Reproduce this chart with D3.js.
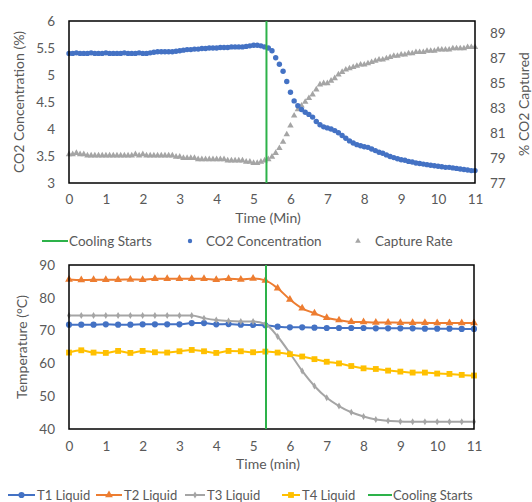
<!DOCTYPE html>
<html>
<head>
<meta charset="utf-8">
<script src="https://cdn.jsdelivr.net/npm/d3@7"></script>
<style>
  body { margin: 0; background: #fff; }
  svg text { font-family: Lato, "Open Sans", sans-serif; fill: #595959; }
</style>
</head>
<body>
<div class="container"></div>
<script>
// top chart: CO2 concentration and capture rate, one reading every 0.1 min
const co2Conc = [
  5.40,5.40,5.41,5.40,5.40,5.40,5.41,5.40,5.40,5.40,
  5.41,5.40,5.40,5.40,5.40,5.41,5.40,5.40,5.40,5.41,
  5.40,5.40,5.41,5.42,5.43,5.43,5.43,5.43,5.43,5.44,
  5.45,5.46,5.47,5.47,5.48,5.48,5.49,5.49,5.50,5.50,
  5.50,5.51,5.51,5.51,5.52,5.52,5.52,5.52,5.53,5.54,
  5.55,5.55,5.54,5.52,5.50,5.45,5.32,5.20,5.07,4.88,
  4.68,4.52,4.43,4.36,4.31,4.27,4.22,4.14,4.08,4.04,
  4.02,4.00,3.97,3.93,3.88,3.83,3.78,3.74,3.71,3.69,
  3.67,3.66,3.63,3.60,3.57,3.55,3.52,3.49,3.47,3.45,
  3.43,3.42,3.40,3.39,3.37,3.36,3.35,3.34,3.33,3.32,
  3.31,3.30,3.29,3.29,3.28,3.27,3.26,3.25,3.24,3.23,3.23
]
const captureRate = [
  79.3,79.3,79.4,79.3,79.3,79.2,79.2,79.2,79.2,79.2,
  79.2,79.2,79.2,79.2,79.2,79.2,79.2,79.2,79.3,79.2,
  79.3,79.2,79.2,79.2,79.2,79.2,79.2,79.2,79.2,79.1,
  79.1,79.0,79.0,79.0,79.0,78.9,78.9,78.9,78.9,78.9,
  78.9,78.9,78.9,78.8,78.8,78.8,78.8,78.8,78.7,78.7,
  78.6,78.6,78.7,78.8,78.9,79.1,79.4,79.8,80.3,80.9,
  81.6,82.4,82.9,83.2,83.5,83.8,84.1,84.5,84.9,85.0,
  85.0,85.2,85.4,85.7,85.9,86.1,86.2,86.3,86.4,86.5,
  86.5,86.6,86.7,86.8,86.9,86.9,87.0,87.1,87.2,87.2,
  87.3,87.3,87.4,87.4,87.5,87.5,87.5,87.6,87.6,87.6,
  87.7,87.7,87.7,87.7,87.8,87.8,87.8,87.8,87.9,87.9,87.9
]
const topStep = 0.1

// bottom chart: temperatures, one reading every 1/3 min
const t1Liquid = [71.8,71.8,71.8,71.9,71.8,71.8,71.9,71.9,71.9,71.9,72.3,72.3,71.9,72.0,71.8,71.7,71.6,
  71.2,71.0,71.0,70.9,70.8,70.8,70.8,70.8,70.7,70.7,70.7,70.7,70.6,70.6,70.6,70.5,70.5]
const t2Liquid = [85.6,85.4,85.5,85.5,85.5,85.6,85.5,85.8,85.8,85.8,85.8,85.8,85.5,85.8,85.6,85.9,85.3,
  82.9,79.5,76.8,75.3,73.9,73.2,72.7,72.6,72.5,72.5,72.4,72.4,72.4,72.3,72.3,72.3,72.3]
const t3Liquid = [74.6,74.6,74.6,74.6,74.6,74.6,74.6,74.6,74.6,74.6,74.6,73.8,73.2,72.9,72.8,72.8,72.0,
  68.2,63.1,57.7,53.1,49.5,47.0,45.1,43.8,42.9,42.5,42.3,42.2,42.2,42.2,42.2,42.2,42.2]
const t4Liquid = [63.3,64.0,63.3,63.2,63.8,63.2,63.8,63.4,63.3,63.7,64.1,63.7,63.2,63.8,63.7,63.4,63.6,
  63.3,62.8,62.1,61.3,60.5,60.0,59.2,58.5,58.3,57.8,57.5,57.2,57.2,56.9,56.8,56.5,56.3]
const bottomStep = 1 / 3

const coolingStart = 5.35
const xTicks = d3.range(0, 12)
const co2Ticks = [3, 3.5, 4, 4.5, 5, 5.5, 6]
const captureTicks = [77, 79, 81, 83, 85, 87, 89]
const tempTicks = [40, 50, 60, 70, 80, 90]

const blue = '#4472C4', orange = '#ED7D31', grey = '#A5A5A5', yellow = '#FFC000', green = '#2DB24A'

let svg = d3.select('.container')
    .append('svg')
    .attr('width', 532)
    .attr('height', 502)

let x1 = d3.scaleLinear().domain([0, 11]).range([69, 475])
let yL = d3.scaleLinear().domain([3, 6]).range([183, 21])
let yR = d3.scaleLinear().domain([77, 90]).range([183, 21])

function axisText(axis) {
    return g => {
        g.call(axis.tickSize(0))
        g.select('.domain').remove()
        g.selectAll('line').remove()
        g.selectAll('text').attr('fill', '#595959').style('font-size', '13.5px')
            .style('font-family', 'Lato, "Open Sans", sans-serif')
    }
}

// top panel
svg.append('g').attr('transform', 'translate(0,183)')
    .call(axisText(d3.axisBottom(x1).tickValues(xTicks).tickFormat(d3.format('d')).tickPadding(11)))
svg.append('g').attr('transform', 'translate(69,0)')
    .call(axisText(d3.axisLeft(yL).tickValues(co2Ticks).tickFormat(d => d).tickPadding(14)))
svg.append('g').attr('transform', 'translate(475,0)')
    .call(axisText(d3.axisRight(yR).tickValues(captureTicks).tickPadding(15)))

let topG = svg.append('g')
topG.selectAll('path.cap')
    .data(captureRate)
    .enter()
    .append('path')
    .attr('class', 'cap')
    .attr('d', d3.symbol(d3.symbolTriangle, 18))
    .attr('transform', (d, i) => `translate(${x1(i * topStep)},${yR(d)})`)
    .attr('fill', grey)
topG.selectAll('circle')
    .data(co2Conc)
    .enter()
    .append('circle')
    .attr('cx', (d, i) => x1(i * topStep))
    .attr('cy', d => yL(d))
    .attr('r', 2.7)
    .attr('fill', blue)

svg.append('rect')
    .attr('x', 69).attr('y', 21).attr('width', 406).attr('height', 162)
    .attr('fill', 'none').attr('stroke', '#000').attr('stroke-width', 1.5)
svg.append('line')
    .attr('x1', x1(coolingStart)).attr('x2', x1(coolingStart))
    .attr('y1', 21).attr('y2', 183)
    .attr('stroke', green).attr('stroke-width', 2)

svg.append('text').attr('x', 268).attr('y', 223).attr('text-anchor', 'middle')
    .style('font-size', '14px').text('Time (Min)')
svg.append('text').attr('transform', 'translate(24,102) rotate(-90)').attr('text-anchor', 'middle')
    .style('font-size', '14px').text('CO2 Concentration (%)')
svg.append('text').attr('transform', 'translate(529,104) rotate(-90)').attr('text-anchor', 'middle')
    .style('font-size', '14px').text('% CO2 Captured')

// top legend
let leg1 = svg.append('g').style('font-size', '13.5px')
leg1.append('line').attr('x1', 42).attr('x2', 68).attr('y1', 241).attr('y2', 241)
    .attr('stroke', green).attr('stroke-width', 2)
leg1.append('text').attr('x', 69).attr('y', 246).text('Cooling Starts')
leg1.append('circle').attr('cx', 190).attr('cy', 241).attr('r', 2.2).attr('fill', blue)
leg1.append('text').attr('x', 206).attr('y', 246).text('CO2 Concentration')
leg1.append('path').attr('d', d3.symbol(d3.symbolTriangle, 14)).attr('transform', 'translate(358,241)')
    .attr('fill', grey)
leg1.append('text').attr('x', 375).attr('y', 246).text('Capture Rate')

// bottom panel
let x2 = d3.scaleLinear().domain([0, 11]).range([69, 474])
let yT = d3.scaleLinear().domain([40, 90]).range([429, 265])

svg.append('g').attr('transform', 'translate(0,429)')
    .call(axisText(d3.axisBottom(x2).tickValues(xTicks).tickFormat(d3.format('d')).tickPadding(12)))
svg.append('g').attr('transform', 'translate(69,0)')
    .call(axisText(d3.axisLeft(yT).tickValues(tempTicks).tickPadding(14)))

let series = [
    { values: t1Liquid, color: blue, shape: 'circle', name: 'T1 Liquid' },
    { values: t2Liquid, color: orange, shape: 'triangle', name: 'T2 Liquid' },
    { values: t3Liquid, color: grey, shape: 'diamond', name: 'T3 Liquid' },
    { values: t4Liquid, color: yellow, shape: 'square', name: 'T4 Liquid' }
]
const shapes = {
    circle: d3.symbol(d3.symbolCircle, 30),
    triangle: d3.symbol(d3.symbolTriangle, 26),
    diamond: d3.symbol(d3.symbolDiamond, 14),
    square: d3.symbol(d3.symbolSquare, 34)
}

let line = d3.line()
    .x((d, i) => x2(i * bottomStep))
    .y(d => yT(d))
    .curve(d3.curveMonotoneX)

series.forEach(s => {
    let g = svg.append('g')
    g.append('path')
        .attr('d', line(s.values))
        .attr('fill', 'none')
        .attr('stroke', s.color)
        .attr('stroke-width', 2)
    g.selectAll('path.m')
        .data(s.values)
        .enter()
        .append('path')
        .attr('class', 'm')
        .attr('d', shapes[s.shape])
        .attr('transform', (d, i) => `translate(${x2(i * bottomStep)},${yT(d)})`)
        .attr('fill', s.color)
})

svg.append('rect')
    .attr('x', 69).attr('y', 265).attr('width', 405).attr('height', 164)
    .attr('fill', 'none').attr('stroke', '#000').attr('stroke-width', 1.5)
svg.append('line')
    .attr('x1', x2(coolingStart)).attr('x2', x2(coolingStart))
    .attr('y1', 265).attr('y2', 429)
    .attr('stroke', green).attr('stroke-width', 2)

svg.append('text').attr('x', 268).attr('y', 469).attr('text-anchor', 'middle')
    .style('font-size', '14px').text('Time (min)')
svg.append('text').attr('transform', 'translate(27,347) rotate(-90)').attr('text-anchor', 'middle')
    .style('font-size', '14px').text('Temperature (°C)')

// bottom legend
let legPos = [[8, 37], [96, 124], [185, 207], [282, 302]]
let leg2 = svg.append('g').style('font-size', '13px')
series.forEach((s, i) => {
    let [lx, tx] = legPos[i]
    leg2.append('line').attr('x1', lx).attr('x2', tx - 2).attr('y1', 495).attr('y2', 495)
        .attr('stroke', s.color).attr('stroke-width', 2)
    leg2.append('path').attr('d', shapes[s.shape])
        .attr('transform', `translate(${(lx + tx - 2) / 2},495)`).attr('fill', s.color)
    leg2.append('text').attr('x', tx).attr('y', 500).text(s.name)
})
leg2.append('line').attr('x1', 368).attr('x2', 392).attr('y1', 495).attr('y2', 495)
    .attr('stroke', green).attr('stroke-width', 2)
leg2.append('text').attr('x', 393).attr('y', 500).text('Cooling Starts')
</script>
</body>
</html>
